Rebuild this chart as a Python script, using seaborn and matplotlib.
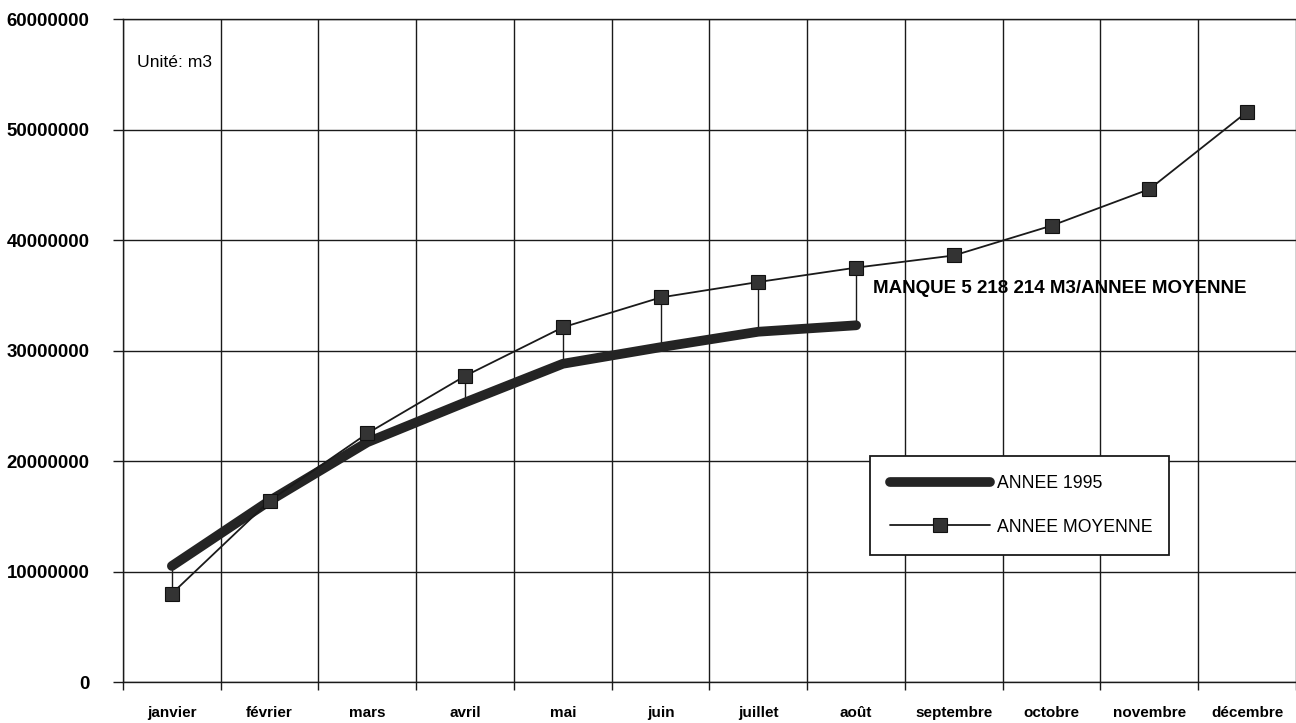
import numpy as np
import pandas as pd
import matplotlib
matplotlib.use("Agg")
import matplotlib.pyplot as plt
from matplotlib.lines import Line2D
from matplotlib.ticker import FixedLocator
import seaborn as sns

# Cumulative volumes (m3), month by month
mois = ["janvier", "février", "mars", "avril", "mai", "juin", "juillet", "août",
        "septembre", "octobre", "novembre", "décembre"]
annee_moyenne = [8000000, 16400000, 22500000, 27700000, 32100000, 34800000,
                 36200000, 37500000, 38600000, 41300000, 44600000, 51600000]
manque_aout = 5218214
annee_1995 = [10500000, 16400000, 21700000, 25300000, 28800000, 30300000,
              31700000, annee_moyenne[7] - manque_aout]
y_ticks = [0, 10000000, 20000000, 30000000, 40000000, 50000000, 60000000]

sns.set_style("white")
plt.rcParams["font.family"] = ["Liberation Sans", "DejaVu Sans"]
plt.rcParams["text.color"] = "black"

fig = plt.figure(figsize=(12.96, 7.23), dpi=100)
ax = fig.add_axes([0.0949, 0.0567, 0.9051, 0.917])

df_moy = pd.DataFrame({"mois": mois, "volume": annee_moyenne})
n95 = len(annee_1995)
df_95 = pd.DataFrame({"mois": mois[:n95], "volume": annee_1995})

ink = "#1a1a1a"

sns.lineplot(data=df_moy, x="mois", y="volume", sort=False, ax=ax,
             color=ink, lw=1.3, marker="s", markersize=10,
             markerfacecolor="#333333", markeredgecolor="#111111",
             markeredgewidth=0.8, zorder=4)
sns.lineplot(data=df_95, x="mois", y="volume", sort=False, ax=ax,
             color="#242424", lw=7, solid_capstyle="round", zorder=3)

# Drop lines between the two series
ax.vlines(mois[:n95], annee_1995, annee_moyenne[:n95], colors=ink, lw=1.0, zorder=2)

ax.set_xlim(-0.5, len(mois) - 0.5)
ax.set_ylim(0, 60000000)
ax.set_xlabel("")
ax.set_ylabel("")

# Grid: vertical lines on month boundaries, horizontal on value ticks
ax.xaxis.set_minor_locator(FixedLocator(np.arange(-0.5, len(mois), 1.0)))
ax.set_yticks(y_ticks)
ax.set_yticklabels([str(v) for v in y_ticks], fontsize=13.4, fontweight="bold")
ax.set_xticks(range(len(mois)))
ax.set_xticklabels(mois, fontsize=11, fontweight="bold")
ax.grid(True, which="minor", axis="x", color=ink, lw=1.0)
ax.grid(True, which="major", axis="y", color=ink, lw=1.0)
ax.grid(False, which="major", axis="x")
ax.tick_params(axis="x", which="major", length=0, pad=17, labelcolor="black")
ax.tick_params(axis="x", which="minor", length=6, width=1.0, direction="out",
               color=ink, bottom=True)
ax.tick_params(axis="y", which="major", length=7, width=1.0, direction="out",
               color=ink, pad=17, left=True, labelcolor="black")

for side in ["left", "bottom", "top"]:
    ax.spines[side].set_visible(True)
    ax.spines[side].set_color(ink)
    ax.spines[side].set_linewidth(1.0)
ax.spines["right"].set_visible(False)

ax.text(0.012, 0.935, "Unité: m3", transform=ax.transAxes, fontsize=12.6,
        va="center", ha="left", color="black")
ax.text(0.639, 0.593, "MANQUE 5 218 214 M3/ANNEE MOYENNE", transform=ax.transAxes,
        fontsize=13.5, fontweight="bold", va="center", ha="left", color="black")

handles = [
    Line2D([], [], color="#242424", lw=7, solid_capstyle="round"),
    Line2D([], [], color=ink, lw=1.3, marker="s", markersize=10,
           markerfacecolor="#333333", markeredgecolor="#111111", markeredgewidth=0.8),
]
leg = ax.legend(handles, ["ANNEE 1995", "ANNEE MOYENNE"], loc="lower left",
                bbox_to_anchor=(0.637, 0.1916, 0.255, 0.147), mode="expand",
                fontsize=12.7, handlelength=5.7, handletextpad=0.4,
                labelspacing=1.5, borderpad=1.1, frameon=True, fancybox=False,
                edgecolor=ink, framealpha=1.0, borderaxespad=0)
leg.get_frame().set_linewidth(1.3)
for t in leg.get_texts():
    t.set_color("black")
leg.set_zorder(6)

fig.savefig("out.png", dpi=100)
